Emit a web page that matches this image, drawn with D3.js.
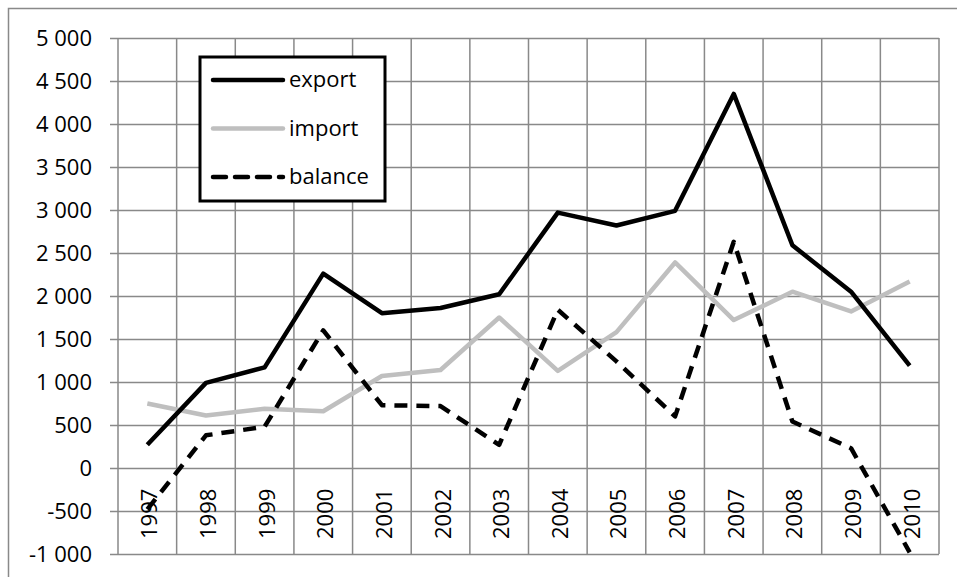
<!DOCTYPE html>
<html>
<head>
<meta charset="utf-8">
<script src="https://cdn.jsdelivr.net/npm/d3@7"></script>
<style>
body { margin: 0; background: #fff; }
svg { display: block; font-family: "Open Sans", "Liberation Sans", sans-serif; }
</style>
</head>
<body>
<svg class="svg" width="957" height="577"></svg>
<script>
let years = ['1997','1998','1999','2000','2001','2002','2003','2004','2005','2006','2007','2008','2009','2010'];
let exportVals = [270, 990, 1170, 2260, 1800, 1860, 2020, 2970, 2820, 2990, 4350, 2590, 2050, 1190];
let importVals = [750, 610, 690, 660, 1070, 1140, 1750, 1130, 1580, 2390, 1720, 2050, 1820, 2170];
let balanceVals = [-480, 380, 480, 1600, 730, 720, 270, 1840, 1240, 600, 2630, 540, 230, -980];
let yTicks = [-1000, -500, 0, 500, 1000, 1500, 2000, 2500, 3000, 3500, 4000, 4500, 5000];
let seriesNames = ['export', 'import', 'balance'];

let plotLeft = 118;
let plotRight = 939;
let plotTop = 38;
let plotBottom = 554;
let gridColor = '#898989';

let svg = d3.select('.svg');

// chart border (cut off at right and bottom like the original)
svg.append('path')
    .attr('d', 'M8.5,' + 577 + 'V8.5H' + 957)
    .attr('fill', 'none')
    .attr('stroke', gridColor)
    .attr('stroke-width', 1.5);

let x = d3.scaleBand().domain(years).range([plotLeft, plotRight]);
let y = d3.scaleLinear().domain([-1000, 5000]).range([plotBottom, plotTop]);

function fmt(v) {
    let s = Math.abs(v).toString();
    if (s.length > 3) s = s.slice(0, s.length - 3) + ' ' + s.slice(s.length - 3);
    return (v < 0 ? '-' : '') + s;
}

// horizontal grid + y ticks
let yAxis = d3.axisLeft(y).tickValues(yTicks).tickSize(-(plotRight - plotLeft)).tickSizeOuter(0).tickPadding(26).tickFormat(fmt);
let gy = svg.append('g').attr('transform', 'translate(' + plotLeft + ',0)').call(yAxis);
gy.select('.domain').remove();
gy.selectAll('.tick line')
    .attr('x1', -8)
    .attr('stroke', gridColor)
    .attr('stroke-width', 1.5);
gy.selectAll('.tick text')
    .attr('fill', '#000')
    .attr('font-size', '22px')
    .attr('font-family', '"Open Sans", sans-serif');

// vertical grid at category boundaries
let bounds = years.map(d => x(d)).concat([plotRight]);
svg.append('g').selectAll('line')
    .data(bounds)
    .enter()
    .append('line')
    .attr('x1', d => d)
    .attr('x2', d => d)
    .attr('y1', plotTop)
    .attr('y2', plotBottom)
    .attr('stroke', gridColor)
    .attr('stroke-width', 1.5);

// year labels, rotated, hanging below zero line
svg.append('g').selectAll('text')
    .data(years)
    .enter()
    .append('text')
    .attr('transform', d => 'translate(' + (x(d) + x.bandwidth() / 2 + 10) + ',' + (y(0) + 71) + ') rotate(-90)')
    .attr('text-anchor', 'start')
    .attr('font-size', '22px')
    .attr('fill', '#000')
    .text(d => d);

// lines
let line = d3.line()
    .x((d, i) => x(years[i]) + x.bandwidth() / 2)
    .y(d => y(d));

let series = [
    {name: 'import', vals: importVals, color: '#bfbfbf', dash: null},
    {name: 'export', vals: exportVals, color: '#000', dash: null},
    {name: 'balance', vals: balanceVals, color: '#000', dash: '13 9'}
];

series.forEach(function (s) {
    svg.append('path')
        .datum(s.vals)
        .attr('d', line)
        .attr('fill', 'none')
        .attr('stroke', s.color)
        .attr('stroke-width', 4.5)
        .attr('stroke-linejoin', 'round')
        .attr('stroke-dasharray', s.dash);
});

// legend
let legend = svg.append('g').attr('class', 'legend');
legend.append('rect')
    .attr('x', 200)
    .attr('y', 57)
    .attr('width', 185)
    .attr('height', 144)
    .attr('fill', '#fff')
    .attr('stroke', '#000')
    .attr('stroke-width', 3);

let legendStyle = {
    export: {color: '#000', dash: null},
    import: {color: '#bfbfbf', dash: null},
    balance: {color: '#000', dash: '13 9'}
};
seriesNames.forEach(function (name, i) {
    let ly = 80 + i * 48.5;
    legend.append('line')
        .attr('x1', 213)
        .attr('x2', 283)
        .attr('y1', ly)
        .attr('y2', ly)
        .attr('stroke', legendStyle[name].color)
        .attr('stroke-width', 4.5)
        .attr('stroke-linecap', 'round')
        .attr('stroke-dasharray', legendStyle[name].dash);
    legend.append('text')
        .attr('x', 289)
        .attr('y', ly + 7)
        .attr('font-size', '22px')
        .attr('fill', '#000')
        .text(name);
});
</script>
</body>
</html>
